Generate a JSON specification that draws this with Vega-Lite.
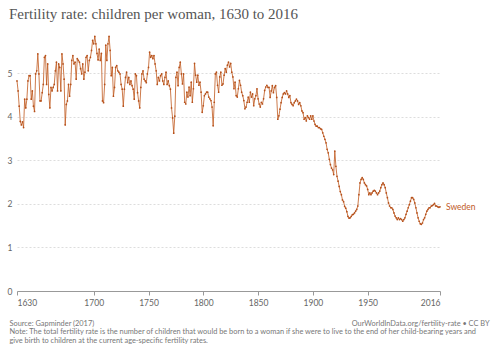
{
"$schema": "https://vega.github.io/schema/vega-lite/v6.json",
"width": 423, "height": 255,
"autosize": "none",
"padding": {"left": 17, "top": 36, "right": 60, "bottom": 62},
"background": "white",
"title": {"text": "Fertility rate: children per woman, 1630 to 2016", "anchor": "start", "frame": "group", "dx": -8, "offset": 12, "font": "Liberation Serif", "fontSize": 15, "fontWeight": "normal", "color": "#555555"},
"config": {"view": {"stroke": null}},
"datasets": {"fr": [
{"year":1630,"fr":4.82},{"year":1631,"fr":4.59},{"year":1632,"fr":4.24},{"year":1633,"fr":3.89},{"year":1634,"fr":3.81},{"year":1635,"fr":3.88},{"year":1636,"fr":3.75},{"year":1637,"fr":4.40},{"year":1638,"fr":4.20},{"year":1639,"fr":4.40},
{"year":1640,"fr":4.82},{"year":1641,"fr":4.94},{"year":1642,"fr":4.94},{"year":1643,"fr":4.40},{"year":1644,"fr":4.59},{"year":1645,"fr":4.24},{"year":1646,"fr":4.12},{"year":1647,"fr":4.98},{"year":1648,"fr":5.05},{"year":1649,"fr":5.44},
{"year":1650,"fr":4.98},{"year":1651,"fr":4.36},{"year":1652,"fr":4.36},{"year":1653,"fr":4.55},{"year":1654,"fr":4.74},{"year":1655,"fr":5.36},{"year":1656,"fr":5.40},{"year":1657,"fr":4.74},{"year":1658,"fr":5.21},{"year":1659,"fr":4.51},
{"year":1660,"fr":4.20},{"year":1661,"fr":4.67},{"year":1662,"fr":4.59},{"year":1663,"fr":4.67},{"year":1664,"fr":4.74},{"year":1665,"fr":5.05},{"year":1666,"fr":5.25},{"year":1667,"fr":4.59},{"year":1668,"fr":5.21},{"year":1669,"fr":5.13},
{"year":1670,"fr":4.59},{"year":1671,"fr":5.44},{"year":1672,"fr":5.21},{"year":1673,"fr":4.86},{"year":1674,"fr":3.81},{"year":1675,"fr":4.28},{"year":1676,"fr":4.36},{"year":1677,"fr":4.74},{"year":1678,"fr":4.47},{"year":1679,"fr":4.74},
{"year":1680,"fr":5.29},{"year":1681,"fr":5.40},{"year":1682,"fr":5.21},{"year":1683,"fr":5.25},{"year":1684,"fr":4.86},{"year":1685,"fr":5.33},{"year":1686,"fr":5.29},{"year":1687,"fr":5.25},{"year":1688,"fr":5.10},{"year":1689,"fr":4.98},
{"year":1690,"fr":5.21},{"year":1691,"fr":4.86},{"year":1692,"fr":5.02},{"year":1693,"fr":5.36},{"year":1694,"fr":5.40},{"year":1695,"fr":5.05},{"year":1696,"fr":5.29},{"year":1697,"fr":5.36},{"year":1698,"fr":5.52},{"year":1699,"fr":5.75},
{"year":1700,"fr":5.67},{"year":1701,"fr":5.84},{"year":1702,"fr":5.67},{"year":1703,"fr":5.45},{"year":1704,"fr":5.30},{"year":1705,"fr":5.55},{"year":1706,"fr":5.29},{"year":1707,"fr":5.45},{"year":1708,"fr":4.36},{"year":1709,"fr":4.32},
{"year":1710,"fr":4.74},{"year":1711,"fr":5.64},{"year":1712,"fr":5.29},{"year":1713,"fr":5.67},{"year":1714,"fr":5.84},{"year":1715,"fr":5.52},{"year":1716,"fr":4.94},{"year":1717,"fr":5.13},{"year":1718,"fr":4.47},{"year":1719,"fr":4.67},
{"year":1720,"fr":5.13},{"year":1721,"fr":5.17},{"year":1722,"fr":5.05},{"year":1723,"fr":5.02},{"year":1724,"fr":4.98},{"year":1725,"fr":4.74},{"year":1726,"fr":4.63},{"year":1727,"fr":4.24},{"year":1728,"fr":4.63},{"year":1729,"fr":4.90},
{"year":1730,"fr":5.02},{"year":1731,"fr":4.78},{"year":1732,"fr":4.90},{"year":1733,"fr":4.74},{"year":1734,"fr":4.82},{"year":1735,"fr":4.71},{"year":1736,"fr":4.63},{"year":1737,"fr":4.40},{"year":1738,"fr":4.98},{"year":1739,"fr":4.94},
{"year":1740,"fr":4.55},{"year":1741,"fr":4.36},{"year":1742,"fr":4.20},{"year":1743,"fr":4.67},{"year":1744,"fr":4.98},{"year":1745,"fr":5.05},{"year":1746,"fr":4.86},{"year":1747,"fr":4.82},{"year":1748,"fr":4.78},{"year":1749,"fr":4.98},
{"year":1750,"fr":5.13},{"year":1751,"fr":5.48},{"year":1752,"fr":5.36},{"year":1753,"fr":5.40},{"year":1754,"fr":5.33},{"year":1755,"fr":5.40},{"year":1756,"fr":5.21},{"year":1757,"fr":5.05},{"year":1758,"fr":4.74},{"year":1759,"fr":4.90},
{"year":1760,"fr":4.82},{"year":1761,"fr":4.94},{"year":1762,"fr":4.98},{"year":1763,"fr":4.82},{"year":1764,"fr":4.74},{"year":1765,"fr":4.90},{"year":1766,"fr":5.02},{"year":1767,"fr":4.74},{"year":1768,"fr":4.82},{"year":1769,"fr":4.71},
{"year":1770,"fr":4.63},{"year":1771,"fr":4.20},{"year":1772,"fr":3.97},{"year":1773,"fr":3.62},{"year":1774,"fr":4.01},{"year":1775,"fr":4.90},{"year":1776,"fr":5.02},{"year":1777,"fr":4.71},{"year":1778,"fr":5.13},{"year":1779,"fr":5.25},
{"year":1780,"fr":4.98},{"year":1781,"fr":4.75},{"year":1782,"fr":4.98},{"year":1783,"fr":4.33},{"year":1784,"fr":4.29},{"year":1785,"fr":4.56},{"year":1786,"fr":4.45},{"year":1787,"fr":4.68},{"year":1788,"fr":4.48},{"year":1789,"fr":4.79},
{"year":1790,"fr":4.33},{"year":1791,"fr":4.64},{"year":1792,"fr":5.22},{"year":1793,"fr":4.95},{"year":1794,"fr":4.79},{"year":1795,"fr":4.95},{"year":1796,"fr":4.72},{"year":1797,"fr":4.79},{"year":1798,"fr":4.56},{"year":1799,"fr":4.10},
{"year":1800,"fr":4.25},{"year":1801,"fr":4.48},{"year":1802,"fr":4.52},{"year":1803,"fr":4.56},{"year":1804,"fr":4.56},{"year":1805,"fr":4.45},{"year":1806,"fr":4.41},{"year":1807,"fr":4.37},{"year":1808,"fr":4.22},{"year":1809,"fr":3.79},
{"year":1810,"fr":4.33},{"year":1811,"fr":4.98},{"year":1812,"fr":5.02},{"year":1813,"fr":4.72},{"year":1814,"fr":4.56},{"year":1815,"fr":4.91},{"year":1816,"fr":5.02},{"year":1817,"fr":4.72},{"year":1818,"fr":4.75},{"year":1819,"fr":4.95},
{"year":1820,"fr":5.10},{"year":1821,"fr":5.02},{"year":1822,"fr":5.18},{"year":1823,"fr":5.25},{"year":1824,"fr":5.14},{"year":1825,"fr":5.22},{"year":1826,"fr":5.02},{"year":1827,"fr":4.91},{"year":1828,"fr":4.64},{"year":1829,"fr":4.79},
{"year":1830,"fr":4.48},{"year":1831,"fr":4.45},{"year":1832,"fr":4.64},{"year":1833,"fr":4.83},{"year":1834,"fr":4.72},{"year":1835,"fr":4.56},{"year":1836,"fr":4.48},{"year":1837,"fr":4.37},{"year":1838,"fr":4.18},{"year":1839,"fr":4.22},
{"year":1840,"fr":4.33},{"year":1841,"fr":4.45},{"year":1842,"fr":4.33},{"year":1843,"fr":4.56},{"year":1844,"fr":4.45},{"year":1845,"fr":4.52},{"year":1846,"fr":4.25},{"year":1847,"fr":4.41},{"year":1848,"fr":4.48},{"year":1849,"fr":4.64},
{"year":1850,"fr":4.41},{"year":1851,"fr":4.29},{"year":1852,"fr":4.22},{"year":1853,"fr":4.33},{"year":1854,"fr":4.29},{"year":1855,"fr":4.41},{"year":1856,"fr":4.60},{"year":1857,"fr":4.68},{"year":1858,"fr":4.72},{"year":1859,"fr":4.67},
{"year":1860,"fr":4.67},{"year":1861,"fr":4.44},{"year":1862,"fr":4.59},{"year":1863,"fr":4.71},{"year":1864,"fr":4.55},{"year":1865,"fr":4.67},{"year":1866,"fr":4.71},{"year":1867,"fr":4.44},{"year":1868,"fr":3.94},{"year":1869,"fr":4.02},
{"year":1870,"fr":4.17},{"year":1871,"fr":4.32},{"year":1872,"fr":4.44},{"year":1873,"fr":4.52},{"year":1874,"fr":4.55},{"year":1875,"fr":4.52},{"year":1876,"fr":4.59},{"year":1877,"fr":4.52},{"year":1878,"fr":4.44},{"year":1879,"fr":4.48},
{"year":1880,"fr":4.32},{"year":1881,"fr":4.28},{"year":1882,"fr":4.25},{"year":1883,"fr":4.32},{"year":1884,"fr":4.36},{"year":1885,"fr":4.40},{"year":1886,"fr":4.36},{"year":1887,"fr":4.28},{"year":1888,"fr":4.32},{"year":1889,"fr":4.25},
{"year":1890,"fr":4.13},{"year":1891,"fr":4.09},{"year":1892,"fr":3.94},{"year":1893,"fr":3.98},{"year":1894,"fr":3.90},{"year":1895,"fr":4.02},{"year":1896,"fr":3.98},{"year":1897,"fr":3.94},{"year":1898,"fr":4.02},{"year":1899,"fr":3.94},
{"year":1900,"fr":4.02},{"year":1901,"fr":3.90},{"year":1902,"fr":3.82},{"year":1903,"fr":3.78},{"year":1904,"fr":3.78},{"year":1905,"fr":3.75},{"year":1906,"fr":3.75},{"year":1907,"fr":3.72},{"year":1908,"fr":3.71},{"year":1909,"fr":3.63},
{"year":1910,"fr":3.55},{"year":1911,"fr":3.48},{"year":1912,"fr":3.40},{"year":1913,"fr":3.25},{"year":1914,"fr":3.17},{"year":1915,"fr":3.02},{"year":1916,"fr":2.90},{"year":1917,"fr":2.82},{"year":1918,"fr":2.78},{"year":1919,"fr":2.67},
{"year":1920,"fr":3.21},{"year":1921,"fr":2.86},{"year":1922,"fr":2.63},{"year":1923,"fr":2.52},{"year":1924,"fr":2.40},{"year":1925,"fr":2.28},{"year":1926,"fr":2.21},{"year":1927,"fr":2.09},{"year":1928,"fr":2.05},{"year":1929,"fr":1.94},
{"year":1930,"fr":1.90},{"year":1931,"fr":1.82},{"year":1932,"fr":1.71},{"year":1933,"fr":1.67},{"year":1934,"fr":1.68},{"year":1935,"fr":1.71},{"year":1936,"fr":1.75},{"year":1937,"fr":1.76},{"year":1938,"fr":1.79},{"year":1939,"fr":1.83},
{"year":1940,"fr":1.87},{"year":1941,"fr":1.95},{"year":1942,"fr":2.21},{"year":1943,"fr":2.48},{"year":1944,"fr":2.56},{"year":1945,"fr":2.60},{"year":1946,"fr":2.56},{"year":1947,"fr":2.48},{"year":1948,"fr":2.44},{"year":1949,"fr":2.41},
{"year":1950,"fr":2.33},{"year":1951,"fr":2.21},{"year":1952,"fr":2.25},{"year":1953,"fr":2.21},{"year":1954,"fr":2.25},{"year":1955,"fr":2.29},{"year":1956,"fr":2.31},{"year":1957,"fr":2.29},{"year":1958,"fr":2.25},{"year":1959,"fr":2.21},
{"year":1960,"fr":2.25},{"year":1961,"fr":2.29},{"year":1962,"fr":2.37},{"year":1963,"fr":2.44},{"year":1964,"fr":2.48},{"year":1965,"fr":2.44},{"year":1966,"fr":2.37},{"year":1967,"fr":2.25},{"year":1968,"fr":2.14},{"year":1969,"fr":2.02},
{"year":1970,"fr":1.95},{"year":1971,"fr":1.91},{"year":1972,"fr":1.91},{"year":1973,"fr":1.87},{"year":1974,"fr":1.79},{"year":1975,"fr":1.72},{"year":1976,"fr":1.68},{"year":1977,"fr":1.64},{"year":1978,"fr":1.68},{"year":1979,"fr":1.64},
{"year":1980,"fr":1.66},{"year":1981,"fr":1.64},{"year":1982,"fr":1.60},{"year":1983,"fr":1.64},{"year":1984,"fr":1.68},{"year":1985,"fr":1.76},{"year":1986,"fr":1.83},{"year":1987,"fr":1.91},{"year":1988,"fr":1.98},{"year":1989,"fr":2.06},
{"year":1990,"fr":2.14},{"year":1991,"fr":2.14},{"year":1992,"fr":2.10},{"year":1993,"fr":2.02},{"year":1994,"fr":1.91},{"year":1995,"fr":1.79},{"year":1996,"fr":1.68},{"year":1997,"fr":1.60},{"year":1998,"fr":1.54},{"year":1999,"fr":1.53},
{"year":2000,"fr":1.56},{"year":2001,"fr":1.64},{"year":2002,"fr":1.68},{"year":2003,"fr":1.76},{"year":2004,"fr":1.83},{"year":2005,"fr":1.87},{"year":2006,"fr":1.91},{"year":2007,"fr":1.91},{"year":2008,"fr":1.95},{"year":2009,"fr":1.96},
{"year":2010,"fr":1.98},{"year":2011,"fr":2.01},{"year":2012,"fr":1.95},{"year":2013,"fr":1.95},{"year":2014,"fr":1.93},{"year":2015,"fr":1.92},{"year":2016,"fr":1.93}
]},
"data": {"name": "fr"},
"encoding": {
  "x": {"field": "year", "type": "quantitative",
        "scale": {"domain": [1630, 2016], "nice": false, "zero": false},
        "axis": {"values": [1630, 1700, 1750, 1800, 1850, 1900, 1950, 2016], "format": "d", "labelFlush": true, "grid": false,
                 "domainColor": "#999999", "tickColor": "#999999", "tickSize": 4, "labelPadding": 3,
                 "labelFont": "Lato", "labelFontSize": 8.5, "labelColor": "#666666",
                 "title": ["Source: Gapminder (2017)", "Note: The total fertility rate is the number of children that would be born to a woman if she were to live to the end of her child-bearing years and", "give birth to children at the current age-specific fertility rates."],
                 "titleFont": "Lato", "titleFontSize": 7.4, "titleFontWeight": "normal", "titleColor": "#777777",
                 "titleAlign": "left", "titleAnchor": "start", "titleBaseline": "alphabetic", "titleX": -8, "titleY": 34, "titleLineHeight": 8.5}},
  "y": {"field": "fr", "type": "quantitative",
        "scale": {"domain": [0, 5.85], "nice": false},
        "axis": {"values": [0, 1, 2, 3, 4, 5], "grid": true, "gridDash": [2, 2], "gridColor": "#dddddd", "domain": false, "ticks": false,
                 "labelFont": "Lato", "labelFontSize": 8.5, "labelColor": "#666666", "labelPadding": 5,
                 "title": "OurWorldInData.org/fertility-rate • CC BY", "titleAngle": 0, "titleAlign": "right", "titleBaseline": "alphabetic",
                 "titleX": 472, "titleY": 289, "titleFont": "Lato", "titleFontSize": 7.4, "titleFontWeight": "normal", "titleColor": "#777777"}}
},
"layer": [
  {"mark": {"type": "line", "color": "#c05a1f", "strokeWidth": 1, "opacity": 0.8, "point": {"filled": true, "size": 3, "color": "#b5501b"}}},
  {"transform": [{"filter": "datum.year == 2016"}],
   "mark": {"type": "text", "align": "left", "baseline": "middle", "dx": 6, "font": "Lato", "fontSize": 8.5, "color": "#c05a1f"},
   "encoding": {"text": {"value": "Sweden"}}}
]
}
